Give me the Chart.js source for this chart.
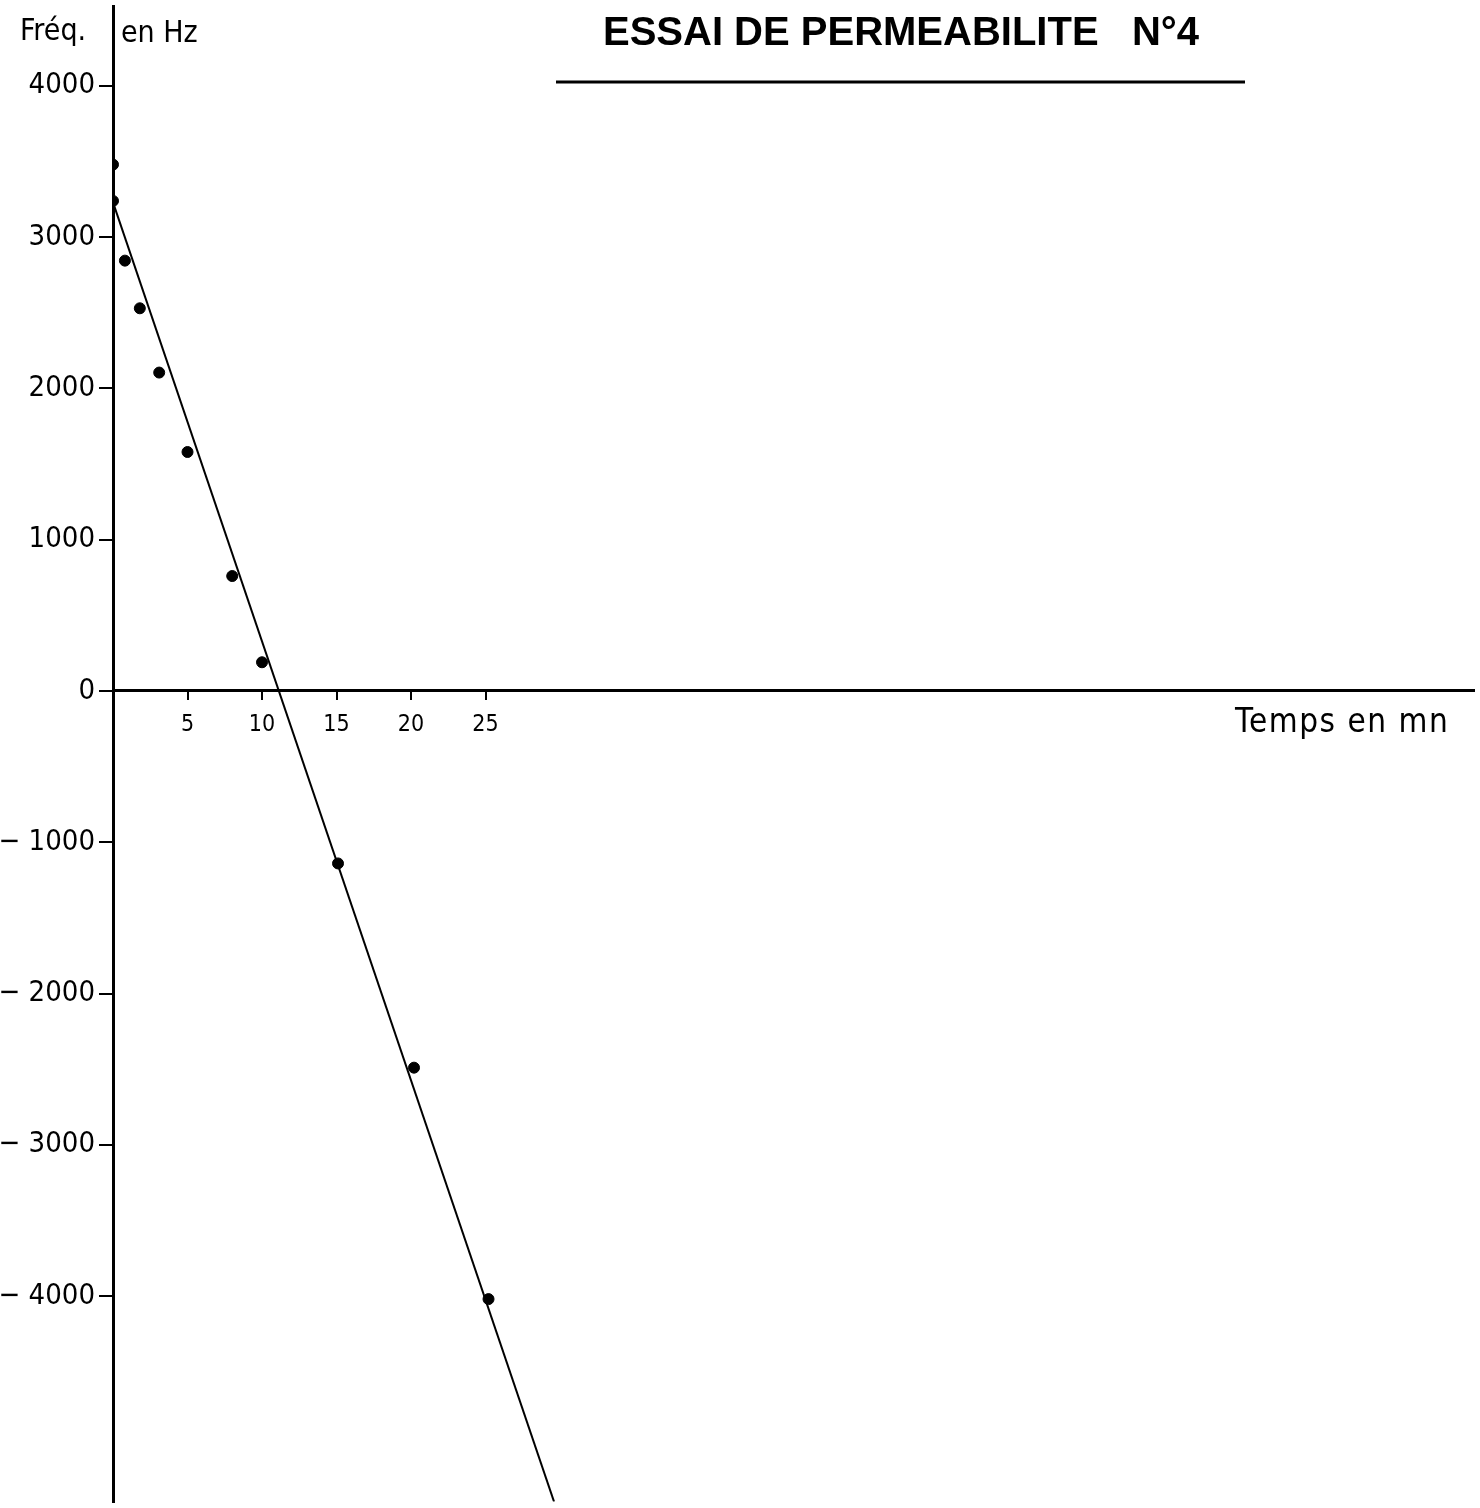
<!DOCTYPE html>
<html>
<head>
<meta charset="utf-8">
<script src="https://cdn.jsdelivr.net/npm/chart.js@4/dist/chart.umd.min.js"></script>
<style>
html, body { margin: 0; padding: 0; background: #fff; }
#wrap { width: 1480px; height: 1508px; position: relative; }
</style>
</head>
<body>
<div id="wrap"><canvas id="essai"></canvas></div>
<script>
// measured points (time in minutes, frequency in Hz)
const timeMin = [0, 0, 0.8, 1.8, 3.1, 5, 8, 10, 15.1, 20.2, 25.2];
const freqHz = [3480, 3240, 2845, 2530, 2105, 1580, 760, 190, -1140, -2490, -4020];

// hand drawn fit line, ends at bottom of the sheet
const fitTime = [0, 29.6];
const fitFreq = [3230, -5360];

const xTicks = [5, 10, 15, 20, 25];
const yTicks = [4000, 3000, 2000, 1000, 0, -1000, -2000, -3000, -4000];

const titleText = 'ESSAI DE PERMEABILITE\u00a0\u00a0\u00a0N°4';
const yLabelA = 'Fréq.';
const yLabelB = 'en Hz';
const xLabel = 'Temps en mn';

const hand = "'DejaVu Sans Condensed', 'Liberation Sans Narrow', sans-serif";

const sheetText = {
    id: 'sheetText',
    afterDraw(chart) {
	const ctx = chart.ctx;
	ctx.save();
	ctx.fillStyle = '#000';
	ctx.strokeStyle = '#000';

	ctx.font = "bold 40px 'Liberation Sans', Arial, sans-serif";
	ctx.textAlign = 'center';
	ctx.textBaseline = 'middle';
	ctx.fillText(titleText, 901, 34);

	ctx.lineWidth = 3;
	ctx.beginPath();
	ctx.moveTo(556, 82);
	ctx.lineTo(1245, 82);
	ctx.stroke();

	ctx.font = '30px ' + hand;
	ctx.textAlign = 'left';
	ctx.textBaseline = 'alphabetic';
	ctx.fillText(yLabelA, 20, 40);
	ctx.fillText(yLabelB, 121, 42);

	ctx.font = '33px ' + hand;
	ctx.letterSpacing = '1.5px';
	ctx.fillText(xLabel, 1235, 732);
	ctx.restore();
    }
};

const data = {
    datasets: [{
	label: 'mesures',
	data: timeMin.map((t, i) => ({x: t, y: freqHz[i]})),
	backgroundColor: '#000',
	borderColor: '#000',
	pointRadius: 5.5,
	showLine: false
    }, {
	label: 'droite',
	data: fitTime.map((t, i) => ({x: t, y: fitFreq[i]})),
	borderColor: '#000',
	borderWidth: 2,
	pointRadius: 0,
	showLine: true
    }]
};

const options = {
    responsive: true,
    maintainAspectRatio: false,
    animation: false,
    layout: { padding: 0 },
    plugins: {
	legend: { display: false },
	tooltip: { enabled: false },
	title: { display: false }
    },
    scales: {
	x: {
	    type: 'linear',
	    min: 0,
	    max: 91.3,
	    position: { y: 0 },
	    grid: { drawOnChartArea: false, color: '#000', lineWidth: 2, tickLength: 8 },
	    border: { color: '#000', width: 3 },
	    ticks: {
		color: '#000',
		font: { family: hand, size: 23 },
		padding: 12,
		maxRotation: 0,
		autoSkip: false
	    },
	    afterBuildTicks: (s) => { s.ticks = xTicks.map(v => ({ value: v })); },
	    afterFit: (s) => {
		s.height = 0;
		s.paddingLeft = 0; s.paddingRight = 0;
		s.paddingTop = 0; s.paddingBottom = 0;
	    }
	},
	y: {
	    type: 'linear',
	    min: -5358,
	    max: 4525,
	    position: 'left',
	    grid: { drawOnChartArea: false, color: '#000', lineWidth: 2, tickLength: 14 },
	    border: { color: '#000', width: 3 },
	    ticks: {
		color: '#000',
		font: { family: hand, size: 29 },
		padding: 4,
		autoSkip: false,
		callback: (v) => v < 0 ? '\u2212 ' + Math.abs(v) : String(v)
	    },
	    afterBuildTicks: (s) => { s.ticks = yTicks.map(v => ({ value: v })); },
	    afterFit: (s) => {
		s.width = 113;
		s.paddingLeft = 0; s.paddingRight = 0;
		s.paddingTop = 0; s.paddingBottom = 0;
	    }
	}
    }
};

window.addEventListener('load', () => {
    new Chart(document.getElementById('essai').getContext('2d'), {
	type: 'scatter',
	data: data,
	options: options,
	plugins: [sheetText]
    });
});
</script>
</body>
</html>
